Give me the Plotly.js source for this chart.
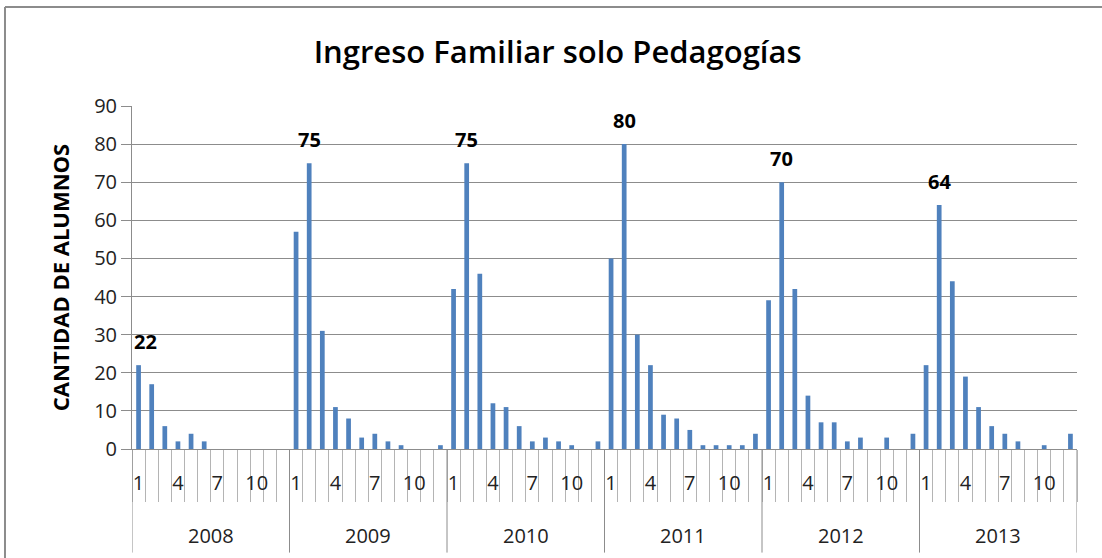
<!DOCTYPE html>
<html>
<head>
<meta charset="utf-8">
<script src="https://cdn.plot.ly/plotly-3.0.1.min.js"></script>
<style>
  body { margin: 0; background: #fff; }
  #chart { width: 1102px; height: 558px; }
</style>
</head>
<body>
<div id="chart"></div>
<script>
// Ingreso familiar por mes, una serie por año
const years = ['2008', '2009', '2010', '2011', '2012', '2013'];
const months = [1, 2, 3, 4, 5, 6, 7, 8, 9, 10, 11, 12];
const shownMonths = [1, 4, 7, 10];

const v2008 = [22, 17, 6, 2, 4, 2, 0, 0, 0, 0, 0, 0];
const v2009 = [57, 75, 31, 11, 8, 3, 4, 2, 1, 0, 0, 1];
const v2010 = [42, 75, 46, 12, 11, 6, 2, 3, 2, 1, 0, 2];
const v2011 = [50, 80, 30, 22, 9, 8, 5, 1, 1, 1, 1, 4];
const v2012 = [39, 70, 42, 14, 7, 7, 2, 3, 0, 3, 0, 4];
const v2013 = [22, 64, 44, 19, 11, 6, 4, 2, 0, 1, 0, 4];
const byYear = [v2008, v2009, v2010, v2011, v2012, v2013];

const gray = '#8c8c8c';
const font = 'Open Sans, sans-serif';

// flatten to one slot per month
let xs = [];
let ys = [];
for (let i = 0; i < years.length; i++) {
    for (let j = 0; j < months.length; j++) {
        xs.push(i * months.length + j);
        ys.push(byYear[i][j]);
    }
}
const nSlots = xs.length;

// month tick labels (only some of them are shown)
let tickvals = [];
let ticktext = [];
for (let i = 0; i < years.length; i++) {
    for (let j = 0; j < months.length; j++) {
        if (shownMonths.includes(months[j])) {
            tickvals.push(i * months.length + j);
            ticktext.push(String(months[j]));
        }
    }
}

let annotations = [];
let shapes = [];

// year labels and the long dividers between years
for (let i = 0; i <= years.length; i++) {
    shapes.push({type: 'line', xref: 'x', yref: 'paper',
        x0: i * months.length - 0.5, x1: i * months.length - 0.5,
        y0: 0, y1: -0.302, line: {color: gray, width: 1}});
    if (i < years.length) {
        annotations.push({xref: 'x', yref: 'paper',
            x: i * months.length + (months.length - 1) / 2, y: -0.251,
            text: years[i], showarrow: false, yanchor: 'middle',
            font: {family: font, size: 20, color: '#222'}});
    }
}

// label the peak of each year
for (let i = 0; i < years.length; i++) {
    let vals = byYear[i];
    let k = vals.indexOf(Math.max(...vals));
    annotations.push({xref: 'x', yref: 'y',
        x: i * months.length + k, y: vals[k],
        text: '<b>' + vals[k] + '</b>', showarrow: false,
        yanchor: 'middle', yshift: 24, xshift: (i === 0 && k === 0) ? 7 : 0,
        font: {family: font, size: 20, color: '#000'}});
}

// chart border (left and top edges only show in the picture)
shapes.push({type: 'line', xref: 'paper', yref: 'paper',
    x0: -0.1344, x1: -0.1344, y0: -0.4, y1: 1.2886,
    line: {color: gray, width: 2}});
shapes.push({type: 'line', xref: 'paper', yref: 'paper',
    x0: -0.1344, x1: 1.1, y0: 1.2886, y1: 1.2886,
    line: {color: gray, width: 2}});

const trace = {
    type: 'bar',
    x: xs,
    y: ys,
    marker: {color: '#4f81bd'},
    hoverinfo: 'y'
};

const layout = {
    width: 1102,
    height: 558,
    margin: {l: 132, r: 25, t: 106, b: 109},
    paper_bgcolor: '#fff',
    plot_bgcolor: '#fff',
    bargap: 0.64,
    showlegend: false,
    title: {
        text: 'Ingreso Familiar solo Pedagogías',
        font: {family: font, size: 31, color: '#000', weight: 600},
        xref: 'container', x: 0.506,
        yref: 'container', y: 0.907, yanchor: 'middle'
    },
    xaxis: {
        range: [-0.5, nSlots - 0.5],
        tickmode: 'array',
        tickvals: tickvals,
        ticktext: ticktext,
        ticks: '',
        ticklabelstandoff: 16,
        tickfont: {family: font, size: 20, color: '#222'},
        showgrid: false,
        zeroline: false,
        showline: true,
        linecolor: gray,
        minor: {tickmode: 'linear', tick0: -0.5, dtick: 1,
                ticks: 'outside', ticklen: 52, tickcolor: '#b4b4b4', tickwidth: 1,
                showgrid: false}
    },
    yaxis: {
        range: [0, 90],
        dtick: 10,
        ticks: 'outside',
        ticklen: 10,
        tickcolor: gray,
        tickfont: {family: font, size: 20, color: '#222'},
        showgrid: true,
        gridcolor: gray,
        gridwidth: 1,
        zeroline: false,
        showline: true,
        linecolor: gray,
        title: {
            text: '<b>CANTIDAD DE ALUMNOS</b>',
            font: {family: font, size: 22, color: '#000'},
            standoff: 18
        }
    },
    annotations: annotations,
    shapes: shapes
};

Plotly.newPlot('chart', [trace], layout, {staticPlot: true});
</script>
</body>
</html>
